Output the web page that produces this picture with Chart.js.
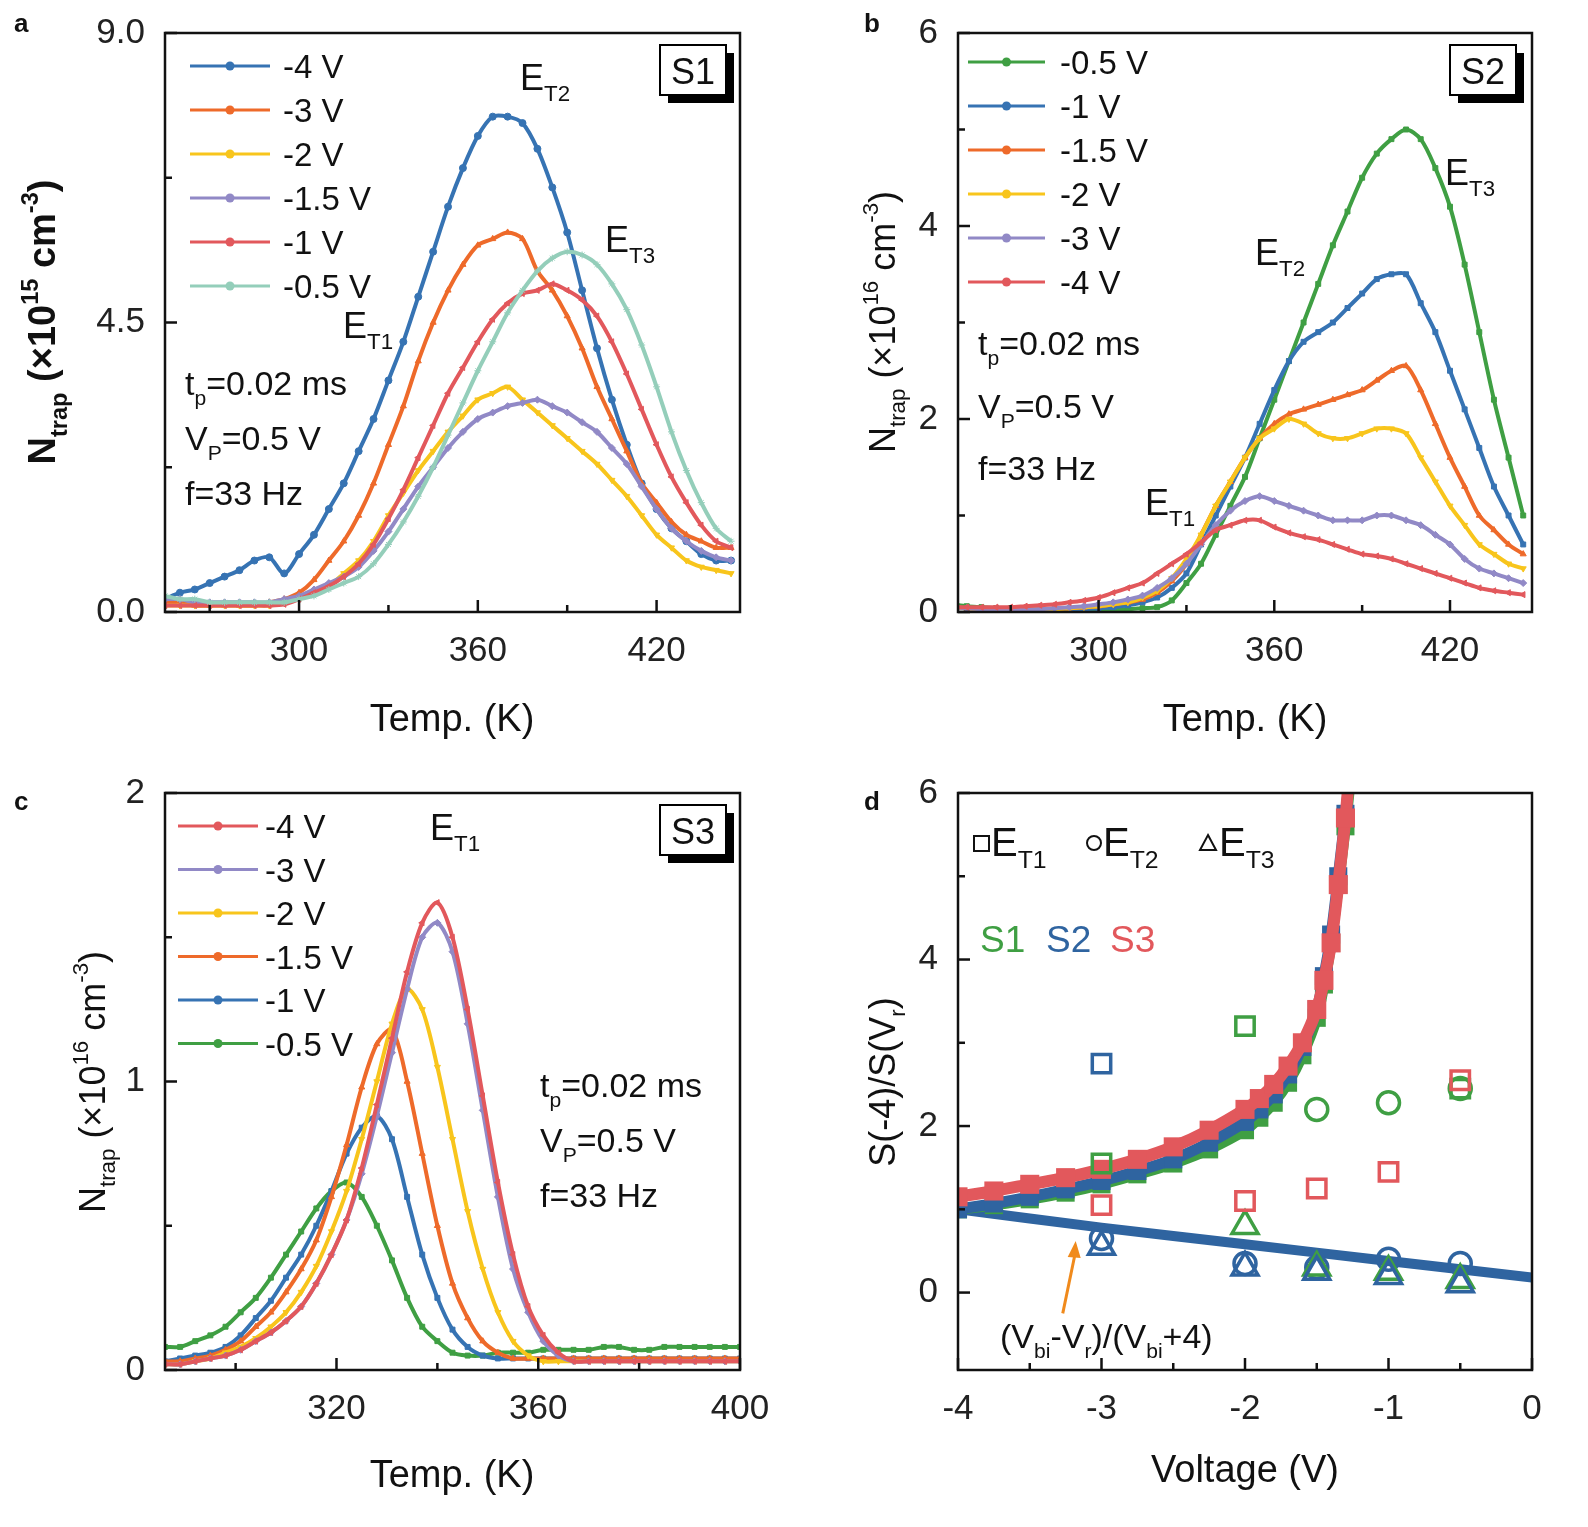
<!DOCTYPE html>
<html><head><meta charset="utf-8">
<script src="https://cdn.jsdelivr.net/npm/chart.js@4/dist/chart.umd.min.js"></script>
<style>
body{margin:0;background:#fff;width:1588px;height:1527px;position:relative;overflow:hidden}
.w{position:absolute}
</style></head><body>
<div class="w" style="left:0;top:0;width:780px;height:760px"><canvas id="ca"></canvas></div>
<div class="w" style="left:790px;top:0;width:790px;height:760px"><canvas id="cb"></canvas></div>
<div class="w" style="left:0;top:760px;width:780px;height:760px"><canvas id="cc"></canvas></div>
<div class="w" style="left:790px;top:760px;width:790px;height:760px"><canvas id="cd"></canvas></div>
<script>
// ---------- DATA ----------
const tempsA = [255,260,265,270,275,280,285,290,295,300,305,310,315,320,325,330,335,340,345,350,355,360,365,370,375,380,385,390,395,400,405,410,415,420,425,430,435,440,445];
const a_m4  = [0.2,0.3,0.35,0.45,0.55,0.65,0.8,0.85,0.6,0.9,1.2,1.6,2.0,2.5,3.0,3.6,4.2,4.9,5.6,6.3,6.9,7.4,7.7,7.7,7.6,7.2,6.6,5.9,5.0,4.1,3.3,2.6,2.0,1.6,1.3,1.1,0.9,0.8,0.8];
const a_m3  = [0.15,0.15,0.1,0.1,0.1,0.1,0.1,0.15,0.2,0.3,0.5,0.8,1.1,1.5,2.0,2.6,3.2,3.9,4.5,5.0,5.4,5.7,5.8,5.9,5.8,5.3,5.0,4.6,4.1,3.5,3.0,2.5,2.0,1.7,1.4,1.2,1.1,1.0,1.0];
const a_m2  = [0.1,0.1,0.1,0.1,0.1,0.1,0.1,0.1,0.15,0.2,0.3,0.4,0.6,0.8,1.1,1.5,1.85,2.2,2.5,2.8,3.05,3.3,3.4,3.5,3.3,3.1,2.9,2.7,2.5,2.3,2.05,1.8,1.5,1.2,1.0,0.8,0.7,0.65,0.6];
const a_m15 = [0.2,0.2,0.15,0.15,0.15,0.15,0.15,0.15,0.2,0.25,0.35,0.45,0.55,0.7,0.95,1.25,1.6,1.95,2.25,2.55,2.8,3.0,3.1,3.2,3.25,3.3,3.2,3.1,2.95,2.8,2.55,2.3,1.95,1.6,1.3,1.1,0.95,0.85,0.8];
const a_m1  = [0.1,0.1,0.1,0.1,0.1,0.1,0.1,0.1,0.12,0.2,0.3,0.4,0.55,0.75,1.05,1.45,1.9,2.4,2.9,3.4,3.8,4.2,4.55,4.8,4.95,5.0,5.1,5.0,4.85,4.6,4.2,3.7,3.15,2.6,2.1,1.7,1.35,1.1,1.0];
const a_m05 = [0.25,0.2,0.2,0.15,0.15,0.15,0.15,0.15,0.15,0.2,0.25,0.35,0.45,0.55,0.75,1.05,1.4,1.8,2.25,2.75,3.25,3.75,4.2,4.65,5.0,5.3,5.5,5.6,5.55,5.4,5.1,4.7,4.15,3.5,2.8,2.2,1.7,1.3,1.1];

const tempsB = [250,255,260,265,270,275,280,285,290,295,300,305,310,315,320,325,330,335,340,345,350,355,360,365,370,375,380,385,390,395,400,405,410,415,420,425,430,435,440,445];
const b_m05 = [0.08,0.06,0.05,0.04,0.04,0.03,0.03,0.03,0.03,0.03,0.03,0.03,0.03,0.04,0.05,0.12,0.3,0.5,0.8,1.1,1.4,1.8,2.2,2.6,3.0,3.4,3.8,4.15,4.5,4.75,4.9,5.0,4.9,4.6,4.2,3.6,2.9,2.2,1.6,1.0];
const b_m1  = [0.05,0.04,0.03,0.03,0.03,0.03,0.03,0.03,0.03,0.03,0.04,0.05,0.07,0.1,0.15,0.25,0.4,0.7,1.0,1.3,1.6,1.95,2.3,2.6,2.8,2.9,3.0,3.15,3.3,3.45,3.5,3.5,3.2,2.9,2.5,2.1,1.7,1.3,1.0,0.7];
const b_m15 = [0.05,0.04,0.03,0.03,0.03,0.03,0.03,0.03,0.04,0.05,0.06,0.08,0.1,0.13,0.2,0.32,0.5,0.8,1.1,1.35,1.6,1.8,1.95,2.05,2.1,2.15,2.2,2.25,2.3,2.4,2.5,2.55,2.3,1.95,1.6,1.3,1.0,0.85,0.7,0.6];
const b_m2  = [0.05,0.04,0.03,0.03,0.03,0.03,0.03,0.03,0.04,0.05,0.06,0.08,0.1,0.15,0.22,0.35,0.55,0.8,1.1,1.35,1.6,1.8,1.9,2.0,1.95,1.85,1.8,1.8,1.85,1.9,1.9,1.85,1.6,1.35,1.1,0.9,0.7,0.6,0.5,0.45];
const b_m3  = [0.05,0.04,0.03,0.03,0.03,0.03,0.03,0.04,0.05,0.06,0.08,0.1,0.13,0.17,0.25,0.35,0.5,0.7,0.9,1.05,1.15,1.2,1.15,1.1,1.05,1.0,0.95,0.95,0.95,1.0,1.0,0.95,0.9,0.8,0.7,0.55,0.45,0.4,0.35,0.3];
const b_m4  = [0.05,0.05,0.05,0.05,0.05,0.06,0.07,0.08,0.1,0.12,0.15,0.2,0.25,0.3,0.4,0.5,0.6,0.72,0.85,0.9,0.95,0.95,0.88,0.82,0.78,0.75,0.7,0.65,0.6,0.58,0.55,0.5,0.45,0.4,0.35,0.3,0.25,0.22,0.2,0.18];

const tempsC = [286,289,292,295,298,301,304,307,310,313,316,319,322,325,328,331,334,337,340,343,346,349,352,355,358,361,364,367,370,373,376,379,382,385,388,391,394,397,400];
const c_m4  = [0.02,0.02,0.03,0.04,0.05,0.07,0.1,0.13,0.17,0.22,0.3,0.4,0.52,0.7,0.92,1.15,1.38,1.55,1.62,1.5,1.25,0.95,0.65,0.4,0.22,0.12,0.06,0.03,0.03,0.03,0.03,0.03,0.03,0.03,0.03,0.03,0.03,0.03,0.03];
const c_m3  = [0.02,0.02,0.03,0.04,0.05,0.07,0.1,0.13,0.17,0.22,0.3,0.4,0.52,0.68,0.88,1.1,1.32,1.5,1.55,1.45,1.2,0.9,0.6,0.35,0.2,0.1,0.05,0.03,0.03,0.03,0.03,0.03,0.03,0.03,0.03,0.03,0.03,0.03,0.03];
const c_m2  = [0.02,0.02,0.03,0.04,0.06,0.08,0.11,0.15,0.2,0.27,0.36,0.48,0.62,0.8,1.0,1.2,1.32,1.25,1.05,0.8,0.55,0.35,0.2,0.1,0.05,0.03,0.03,0.03,0.03,0.03,0.03,0.03,0.03,0.03,0.03,0.03,0.03,0.03,0.03];
const c_m15 = [0.03,0.03,0.04,0.05,0.07,0.1,0.15,0.2,0.27,0.35,0.45,0.6,0.78,0.98,1.13,1.18,1.0,0.75,0.5,0.3,0.18,0.1,0.06,0.04,0.04,0.04,0.04,0.04,0.04,0.04,0.04,0.04,0.04,0.04,0.04,0.04,0.04,0.04,0.04];
const c_m1  = [0.03,0.04,0.05,0.06,0.08,0.12,0.18,0.24,0.32,0.4,0.5,0.62,0.75,0.84,0.88,0.8,0.6,0.4,0.25,0.14,0.08,0.05,0.04,0.04,0.04,0.04,0.04,0.04,0.04,0.04,0.04,0.04,0.04,0.04,0.04,0.04,0.04,0.04,0.04];
const c_m05 = [0.08,0.08,0.1,0.12,0.15,0.2,0.25,0.32,0.4,0.48,0.56,0.62,0.65,0.6,0.5,0.38,0.25,0.15,0.1,0.06,0.05,0.05,0.06,0.06,0.06,0.07,0.07,0.07,0.07,0.08,0.08,0.07,0.07,0.08,0.08,0.08,0.08,0.08,0.08];

const dCurveV  = [-4,-3.75,-3.5,-3.25,-3,-2.75,-2.5,-2.25,-2,-1.9,-1.8,-1.7,-1.6,-1.5,-1.45,-1.4,-1.35,-1.3,-1.27];
const dS1 = [1.0,1.05,1.12,1.2,1.3,1.42,1.55,1.72,1.95,2.1,2.28,2.52,2.85,3.3,3.7,4.2,4.9,5.6,6.1];
const dS2 = [1.0,1.07,1.15,1.24,1.34,1.46,1.6,1.8,2.05,2.2,2.38,2.62,2.95,3.4,3.8,4.3,5.0,5.75,6.2];
const dS3 = [1.15,1.22,1.3,1.38,1.48,1.6,1.75,1.95,2.2,2.33,2.5,2.72,3.0,3.4,3.75,4.2,4.9,5.7,6.3];
const dLineV = [-4,-3.5,-3,-2.5,-2,-1.5,-1,-0.5,0];
const dLine  = [1.0,0.89,0.78,0.68,0.58,0.48,0.38,0.28,0.18];
const dVr = [-3,-2,-1.5,-1,-0.5];
const sq_S1 = [1.55,3.2,null,null,2.45];
const sq_S2 = [2.75,null,null,null,null];
const sq_S3 = [1.05,1.1,1.25,1.45,2.55];
const ci_S1 = [null,null,2.2,2.28,2.45];
const ci_S2 = [0.65,0.35,0.3,0.4,0.35];
const tr_S1 = [null,0.8,0.3,0.25,0.15];
const tr_S2 = [0.55,0.3,0.25,0.2,0.1];

// ---------- HELPERS ----------
const FONT = '"Liberation Sans", Arial, sans-serif';
const C = {blue:'#3673b3', orange:'#ee6a2a', yellow:'#f8c51c', purple:'#9189c6', red:'#e2585c', teal:'#94ceba', green:'#3f9f43', dblue:'#2f64a0'};
const pts = (xs, ys) => xs.map((x,i)=>({x, y: ys[i]})).filter(p=>p.y!==null);

function rich(ctx, parts, x, y, size, bold, align, color){
  ctx.save();
  ctx.fillStyle = color || '#111';
  const f = s => (bold?'bold ':'') + s + 'px ' + FONT;
  let w = 0;
  parts.forEach(p=>{ const s = p[1]?size*0.62:size; ctx.font=f(s); w+=ctx.measureText(p[0]).width; });
  let cx = align==='center' ? x - w/2 : x;
  ctx.textBaseline='alphabetic';
  parts.forEach(p=>{
    const s = p[1]?size*0.62:size; ctx.font=f(s);
    const dy = p[1]==='sub'? size*0.3 : p[1]==='sup'? -size*0.45 : 0;
    ctx.fillText(p[0], cx, y+dy);
    cx += ctx.measureText(p[0]).width;
  });
  ctx.restore();
}
function rotRich(ctx, parts, x, y, size, bold){
  ctx.save(); ctx.translate(x,y); ctx.rotate(-Math.PI/2);
  rich(ctx, parts, 0, size*0.35, size, bold, 'center'); ctx.restore();
}
function lineDS(label, xs, ys, color, style, rot){
  return {label, data: pts(xs, ys), borderColor: color, backgroundColor: color, borderWidth: 4,
    pointStyle: style, pointRotation: rot||0, pointRadius: 3.5, pointBorderWidth: 1, tension: 0.3};
}

function frame(opts){
  return {
    id:'frame',
    afterDraw(chart){
      const ctx = chart.ctx, a = chart.chartArea;
      ctx.save();
      ctx.strokeStyle='#111'; ctx.lineWidth=2.5;
      ctx.strokeRect(a.left, a.top, a.right-a.left, a.bottom-a.top);
      const xs = chart.scales.x, ys = chart.scales.y;
      xs.ticks.forEach(t=>{ const px = xs.getPixelForValue(t.value); const L = t.label? 12:7;
        ctx.beginPath(); ctx.moveTo(px,a.bottom); ctx.lineTo(px,a.bottom-L); ctx.stroke(); });
      ys.ticks.forEach(t=>{ const py = ys.getPixelForValue(t.value); const L = t.label? 12:7;
        ctx.beginPath(); ctx.moveTo(a.left,py); ctx.lineTo(a.left+L,py); ctx.stroke(); });
      ctx.restore();
      opts.draw(ctx, chart);
    }
  };
}
function legend(ctx, items, x0, x1, tx, y0, dy){
  items.forEach((it,i)=>{
    const y = y0 + i*dy;
    ctx.save(); ctx.strokeStyle=it.c; ctx.lineWidth=3;
    ctx.beginPath(); ctx.moveTo(x0,y); ctx.lineTo(x1,y); ctx.stroke();
    ctx.fillStyle=it.c; ctx.beginPath(); ctx.arc((x0+x1)/2,y,4.5,0,Math.PI*2); ctx.fill();
    ctx.restore();
    rich(ctx, [[it.t]], tx, y+12, 33, false, 'left');
  });
}
function boxLabel(ctx, text, x, y, w, h){
  ctx.save(); ctx.fillStyle='#000'; ctx.fillRect(x+8,y+8,w,h);
  ctx.fillStyle='#fff'; ctx.fillRect(x,y,w,h);
  ctx.strokeStyle='#000'; ctx.lineWidth=2; ctx.strokeRect(x,y,w,h); ctx.restore();
  rich(ctx, [[text]], x+w/2, y+h-11, 36, false, 'center');
}

function makeChart(id, datasets, xo, yo, pad, yW, xH, draw){
  return new Chart(document.getElementById(id), {
    type:'line',
    data:{datasets},
    options:{
      responsive:true, maintainAspectRatio:false, animation:false,
      layout:{padding:pad},
      plugins:{legend:{display:false}, tooltip:{enabled:false}},
      scales:{
        x:{type:'linear', min:xo.min, max:xo.max, grid:{display:false}, border:{display:false},
           afterBuildTicks: s=>{ s.ticks = xo.ticks.map(v=>({value:v})); },
           afterFit: s=>{ s.height = xH; },
           ticks:{ autoSkip:false, maxRotation:0, padding:10, color:'#222', font:{size:35, family:FONT}, callback: xo.label } },
        y:{type:'linear', min:yo.min, max:yo.max, grid:{display:false}, border:{display:false},
           afterBuildTicks: s=>{ s.ticks = yo.ticks.map(v=>({value:v})); },
           afterFit: s=>{ s.width = yW; },
           ticks:{ autoSkip:false, padding:12, color:'#222', font:{size:35, family:FONT}, callback: yo.label } }
      }
    },
    plugins:[frame({draw})]
  });
}

// ---------- PANEL A ----------
makeChart('ca', [
  lineDS('-0.5 V', tempsA, a_m05, C.teal, 'star'),
  lineDS('-1 V', tempsA, a_m1, C.red, 'triangle', -90),
  lineDS('-1.5 V', tempsA, a_m15, C.purple, 'rectRot'),
  lineDS('-2 V', tempsA, a_m2, C.yellow, 'triangle', 180),
  lineDS('-3 V', tempsA, a_m3, C.orange, 'triangle'),
  lineDS('-4 V', tempsA, a_m4, C.blue, 'circle'),
], {min:255,max:448,ticks:[270,300,330,360,390,420],label:v=>[300,360,420].includes(v)?String(v):''},
   {min:0,max:9,ticks:[0,2.25,4.5,6.75,9],label:v=>[0,4.5,9].includes(v)?v.toFixed(1):''},
   {left:0,right:40,top:30,bottom:0}, 165, 148,
   (ctx)=>{
     rich(ctx,[['a']],14,32,26,true,'left');
     legend(ctx,[{t:'-4 V',c:C.blue},{t:'-3 V',c:C.orange},{t:'-2 V',c:C.yellow},{t:'-1.5 V',c:C.purple},{t:'-1 V',c:C.red},{t:'-0.5 V',c:C.teal}],190,270,283,66,44);
     boxLabel(ctx,'S1',660,45,66,50);
     rich(ctx,[['E'],['T2','sub']],520,90,36,false,'left');
     rich(ctx,[['E'],['T3','sub']],605,252,36,false,'left');
     rich(ctx,[['E'],['T1','sub']],343,338,36,false,'left');
     rich(ctx,[['t'],['p','sub'],['=0.02 ms']],185,395,34,false,'left');
     rich(ctx,[['V'],['P','sub'],['=0.5 V']],185,450,34,false,'left');
     rich(ctx,[['f=33 Hz']],185,505,34,false,'left');
     rotRich(ctx,[['N'],['trap','sub'],[' (×10'],['15','sup'],[' cm'],['-3','sup'],[')']],42,322,38,true);
     rich(ctx,[['Temp. (K)']],452,731,38,false,'center');
   });

// ---------- PANEL B ----------
makeChart('cb', [
  lineDS('-4 V', tempsB, b_m4, C.red, 'triangle', -90),
  lineDS('-3 V', tempsB, b_m3, C.purple, 'rectRot'),
  lineDS('-2 V', tempsB, b_m2, C.yellow, 'triangle', 180),
  lineDS('-1.5 V', tempsB, b_m15, C.orange, 'triangle'),
  lineDS('-1 V', tempsB, b_m1, C.blue, 'rect'),
  lineDS('-0.5 V', tempsB, b_m05, C.green, 'rect'),
], {min:252,max:448,ticks:[270,300,330,360,390,420],label:v=>[300,360,420].includes(v)?String(v):''},
   {min:0,max:6,ticks:[0,1,2,3,4,5,6],label:v=>v%2===0?String(v):''},
   {left:0,right:48,top:30,bottom:0}, 168, 148,
   (ctx)=>{
     rich(ctx,[['b']],74,32,26,true,'left');
     legend(ctx,[{t:'-0.5 V',c:C.green},{t:'-1 V',c:C.blue},{t:'-1.5 V',c:C.orange},{t:'-2 V',c:C.yellow},{t:'-3 V',c:C.purple},{t:'-4 V',c:C.red}],178,255,270,62,44);
     boxLabel(ctx,'S2',660,45,66,50);
     rich(ctx,[['E'],['T3','sub']],655,185,36,false,'left');
     rich(ctx,[['E'],['T2','sub']],465,265,36,false,'left');
     rich(ctx,[['E'],['T1','sub']],355,515,36,false,'left');
     rich(ctx,[['t'],['p','sub'],['=0.02 ms']],188,355,34,false,'left');
     rich(ctx,[['V'],['P','sub'],['=0.5 V']],188,418,34,false,'left');
     rich(ctx,[['f=33 Hz']],188,480,34,false,'left');
     rotRich(ctx,[['N'],['trap','sub'],[' (×10'],['16','sup'],[' cm'],['-3','sup'],[')']],92,322,36,false);
     rich(ctx,[['Temp. (K)']],455,731,38,false,'center');
   });

// ---------- PANEL C ----------
makeChart('cc', [
  lineDS('-4 V', tempsC, c_m4, C.red, 'triangle', -90),
  lineDS('-3 V', tempsC, c_m3, C.purple, 'rectRot'),
  lineDS('-2 V', tempsC, c_m2, C.yellow, 'triangle', 180),
  lineDS('-1.5 V', tempsC, c_m15, C.orange, 'triangle'),
  lineDS('-1 V', tempsC, c_m1, C.blue, 'rect'),
  lineDS('-0.5 V', tempsC, c_m05, C.green, 'rect'),
], {min:286,max:400,ticks:[300,320,340,360,380,400],label:v=>[320,360,400].includes(v)?String(v):''},
   {min:0,max:2,ticks:[0,0.5,1,1.5,2],label:v=>Number.isInteger(v)?String(v):''},
   {left:0,right:40,top:30,bottom:0}, 165, 150,
   (ctx)=>{
     rich(ctx,[['c']],14,50,26,true,'left');
     legend(ctx,[{t:'-4 V',c:C.red},{t:'-3 V',c:C.purple},{t:'-2 V',c:C.yellow},{t:'-1.5 V',c:C.orange},{t:'-1 V',c:C.blue},{t:'-0.5 V',c:C.green}],178,258,265,66,43.5);
     boxLabel(ctx,'S3',660,45,66,50);
     rich(ctx,[['E'],['T1','sub']],430,80,36,false,'left');
     rich(ctx,[['t'],['p','sub'],['=0.02 ms']],540,337,34,false,'left');
     rich(ctx,[['V'],['P','sub'],['=0.5 V']],540,392,34,false,'left');
     rich(ctx,[['f=33 Hz']],540,447,34,false,'left');
     rotRich(ctx,[['N'],['trap','sub'],[' (×10'],['16','sup'],[' cm'],['-3','sup'],[')']],92,322,36,false);
     rich(ctx,[['Temp. (K)']],452,727,38,false,'center');
   });

// ---------- PANEL D ----------
const dsd = [];
const open = (label, ys, color, style, r) => ({label, data: pts(dVr, ys), showLine:false, borderColor:color, backgroundColor:'rgba(0,0,0,0)', pointStyle:style, pointRadius:r||11, pointBorderWidth:3.5});
dsd.push(open('S3 ET1', sq_S3, C.red, 'rect', 13));
dsd.push(open('S1 ET1', sq_S1, C.green, 'rect', 13));
dsd.push(open('S2 ET1', sq_S2, C.dblue, 'rect', 13));
dsd.push(open('S1 ET2', ci_S1, C.green, 'circle', 11));
dsd.push(open('S2 ET3', tr_S2, C.dblue, 'triangle', 15));
dsd.push(open('S1 ET3', tr_S1, C.green, 'triangle', 15));
dsd.push(open('S2 ET2', ci_S2, C.dblue, 'circle', 11));
dsd.push({label:'S3', data:pts(dCurveV,dS3), borderColor:C.red, backgroundColor:C.red, borderWidth:12, pointStyle:'rect', pointRadius:5, tension:0.3});
dsd.push({label:'S2', data:pts(dCurveV,dS2), borderColor:C.dblue, backgroundColor:C.dblue, borderWidth:11, pointStyle:'rect', pointRadius:5, tension:0.3});
dsd.push({label:'S1', data:pts(dCurveV,dS1), borderColor:C.green, backgroundColor:C.green, borderWidth:11, pointStyle:'rect', pointRadius:5, tension:0.3});
dsd.push({label:'lin', data:pts(dLineV,dLine), borderColor:C.dblue, backgroundColor:C.dblue, borderWidth:10, pointStyle:'crossRot', pointRadius:0, tension:0});
makeChart('cd', dsd,
   {min:-4,max:0,ticks:[-4,-3.5,-3,-2.5,-2,-1.5,-1,-0.5,0],label:v=>Number.isInteger(v)?String(v):''},
   {min:-0.93,max:6,ticks:[0,1,2,3,4,5,6],label:v=>v%2===0?String(v):''},
   {left:0,right:48,top:30,bottom:0}, 168, 150,
   (ctx, chart)=>{
     const xs = chart.scales.x, ys = chart.scales.y;
     rich(ctx,[['d']],74,50,26,true,'left');
     ctx.save(); ctx.strokeStyle='#111'; ctx.lineWidth=2;
     ctx.strokeRect(184,76,15,15);
     ctx.beginPath(); ctx.arc(304,83,7,0,Math.PI*2); ctx.stroke();
     ctx.beginPath(); ctx.moveTo(418,75); ctx.lineTo(426,90); ctx.lineTo(410,90); ctx.closePath(); ctx.stroke();
     ctx.restore();
     rich(ctx,[['E'],['T1','sub']],201,96,40,false,'left');
     rich(ctx,[['E'],['T2','sub']],313,96,40,false,'left');
     rich(ctx,[['E'],['T3','sub']],429,96,40,false,'left');
     rich(ctx,[['S1 ']],190,192,37,false,'left',C.green);
     rich(ctx,[['S2 ']],256,192,37,false,'left',C.dblue);
     rich(ctx,[['S3']],320,192,37,false,'left',C.red);
     const x0=xs.getPixelForValue(-3.27), y0=ys.getPixelForValue(-0.25), x1=xs.getPixelForValue(-3.18), y1=ys.getPixelForValue(0.62);
     ctx.save(); ctx.strokeStyle='#f08a1c'; ctx.fillStyle='#f08a1c'; ctx.lineWidth=3;
     ctx.beginPath(); ctx.moveTo(x0,y0); ctx.lineTo(x1,y1+10); ctx.stroke();
     ctx.beginPath(); ctx.moveTo(x1,y1); ctx.lineTo(x1-8,y1+16); ctx.lineTo(x1+5,y1+17); ctx.closePath(); ctx.fill();
     ctx.restore();
     rich(ctx,[['(V'],['bi','sub'],['-V'],['r','sub'],[')/(V'],['bi','sub'],['+4)']],210,588,34,false,'left');
     rotRich(ctx,[['S(-4)/S(V'],['r','sub'],[')']],92,322,36,false);
     rich(ctx,[['Voltage (V)']],455,722,38,false,'center');
   });
</script>
</body></html>
